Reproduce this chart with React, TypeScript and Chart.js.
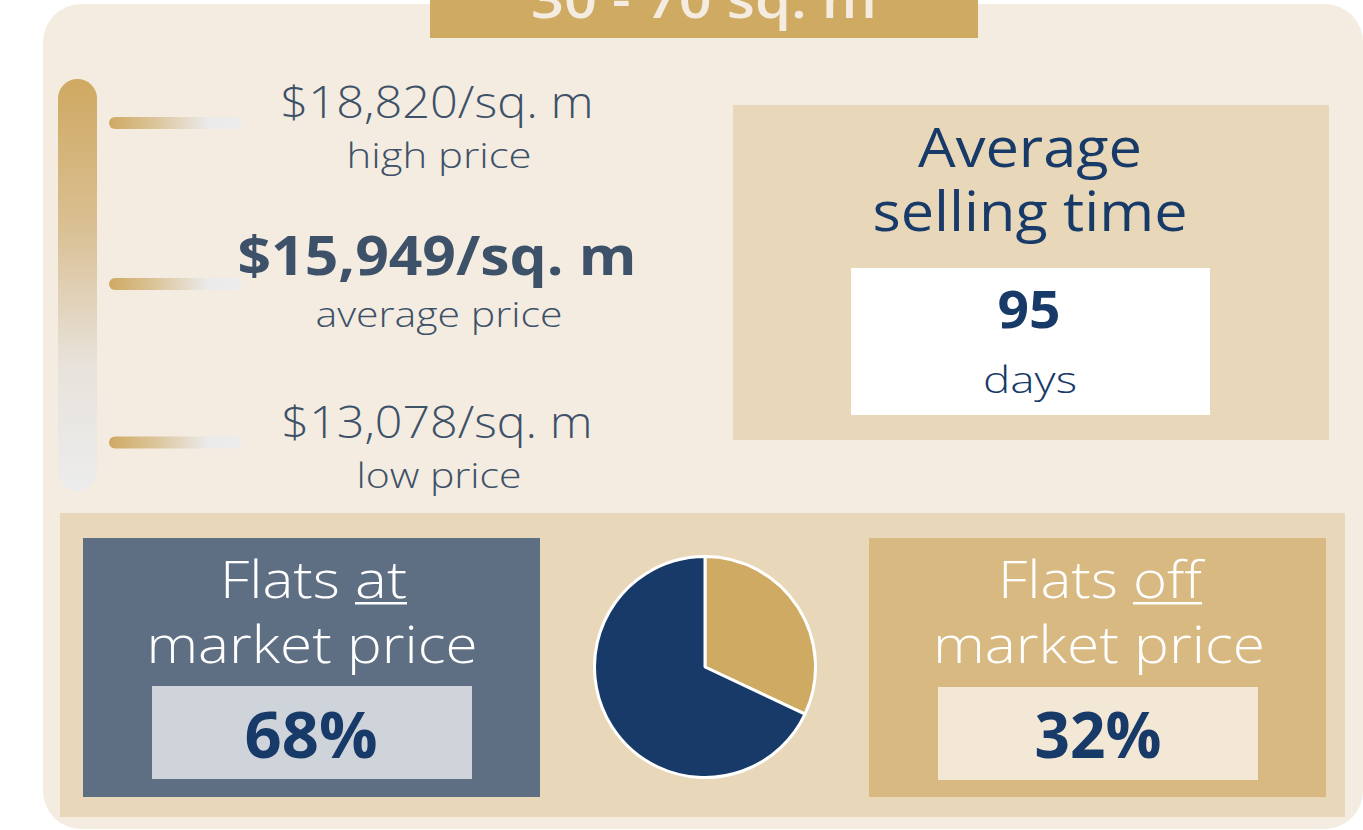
import React, { useEffect, useRef } from "react";
import { Chart, registerables } from "chart.js";

Chart.register(...registerables);

// ---- data ----
const sizeRange = "30 - 70 sq. m";
const priceLabels = ["high price", "average price", "low price"];
const priceValues = [18820, 15949, 13078];
const sellingTitle = ["Average", "selling time"];
const sellingDays = 95;
const sellingUnit = "days";
const sliceLabels = ["Flats off market price", "Flats at market price"];
const sliceValues = [32, 68];
const sliceColors = ["#cfaa63", "#173a68"];

const FONT = "'Open Sans', 'Noto Sans', sans-serif";
const SLATE = "#3d5169";
const NAVY = "#173a68";

const fmtPrice = (v: number) => `$${v.toLocaleString("en-US")}/sq. m`;

type TP = {
  x: number;
  y: number;
  size: number;
  weight?: number;
  fill: string;
  w?: number;
  anchor?: string;
  children: React.ReactNode;
};

function T({ x, y, size, weight = 400, fill, w, anchor = "middle", children }: TP) {
  const extra: any = {};
  if (w) {
    extra.textLength = w;
    extra.lengthAdjust = "spacingAndGlyphs";
  }
  return (
    <text
      x={x}
      y={y}
      fontFamily={FONT}
      fontSize={size}
      fontWeight={weight}
      fill={fill}
      textAnchor={anchor}
      {...extra}
    >
      {children}
    </text>
  );
}

function PieChart() {
  const ref = useRef<HTMLCanvasElement | null>(null);
  useEffect(() => {
    if (!ref.current) return;
    const chart = new Chart(ref.current, {
      type: "pie",
      data: {
        labels: sliceLabels,
        datasets: [
          {
            data: sliceValues,
            backgroundColor: sliceColors,
            borderColor: "#ffffff",
            borderWidth: 3,
          },
        ],
      },
      options: {
        responsive: false,
        animation: false,
        maintainAspectRatio: false,
        layout: { padding: 0 },
        plugins: {
          legend: { display: false },
          tooltip: { enabled: false },
        },
      },
    });
    return () => chart.destroy();
  }, []);
  return (
    <canvas
      ref={ref}
      width={224}
      height={224}
      style={{ position: "absolute", left: 593, top: 555, width: 224, height: 224 }}
    />
  );
}

export default function App() {
  const priceY = [118, 275, 438];
  const labelY = [168, 327, 488];
  const barY = [123, 284, 442.5];
  const priceW = [313, 399, 311];
  const labelW = [185, 247, 165];
  const atPct = `${sliceValues[1]}%`;
  const offPct = `${sliceValues[0]}%`;
  return (
    <div
      style={{
        position: "absolute",
        left: 0,
        top: 0,
        width: 1363,
        height: 830,
        overflow: "hidden",
        background: "#ffffff",
      }}
    >
      <svg
        width={1363}
        height={830}
        style={{ position: "absolute", left: 0, top: 0 }}
      >
        <defs>
          <linearGradient id="vbar" x1="0" y1="0" x2="0" y2="1">
            <stop offset="0" stopColor="#cfa962" />
            <stop offset="0.35" stopColor="#d9bf91" />
            <stop offset="0.7" stopColor="#e8e3dc" />
            <stop offset="1" stopColor="#ececec" />
          </linearGradient>
          <linearGradient id="hbar" x1="0" y1="0" x2="1" y2="0">
            <stop offset="0" stopColor="#cfa962" />
            <stop offset="0.35" stopColor="#dcc59b" />
            <stop offset="0.75" stopColor="#ebebeb" />
            <stop offset="1" stopColor="#ececec" />
          </linearGradient>
        </defs>

        {/* card */}
        <rect x={43} y={4} width={1320} height={825} rx={38} fill="#f4ece0" />

        {/* header */}
        <rect x={430} y={0} width={548} height={38} fill="#cfaa63" />
        <T x={704} y={18} size={52} weight={600} fill="#f4ece0" w={346}>
          {sizeRange}
        </T>

        {/* price scale */}
        <rect x={58} y={79} width={39} height={412} rx={19.5} fill="url(#vbar)" />
        {barY.map((y, i) => (
          <rect key={"b" + i} x={109} y={y - 6} width={133} height={12} rx={6} fill="url(#hbar)" />
        ))}
        {priceValues.map((v, i) => (
          <T
            key={"p" + i}
            x={437}
            y={priceY[i]}
            size={i === 1 ? 54 : 44}
            weight={i === 1 ? 700 : 300}
            fill={SLATE}
            w={priceW[i]}
          >
            {fmtPrice(v)}
          </T>
        ))}
        {priceLabels.map((l, i) => (
          <T key={"l" + i} x={439} y={labelY[i]} size={34} weight={300} fill={SLATE} w={labelW[i]}>
            {l}
          </T>
        ))}

        {/* selling time */}
        <rect x={733} y={105} width={596} height={335} fill="#e8d8b9" />
        <T x={1030} y={167} size={55} weight={500} fill={NAVY} w={224}>
          {sellingTitle[0]}
        </T>
        <T x={1030} y={231} size={55} weight={500} fill={NAVY} w={315}>
          {sellingTitle[1]}
        </T>
        <rect x={851} y={268} width={359} height={147} fill="#ffffff" />
        <T x={1029} y={328} size={52} weight={700} fill={NAVY} w={63}>
          {String(sellingDays)}
        </T>
        <T x={1030} y={393} size={36} weight={300} fill={NAVY} w={94}>
          {sellingUnit}
        </T>

        {/* bottom band */}
        <rect x={60} y={513} width={1285} height={304} fill="#e8d8b9" />

        {/* at market */}
        <rect x={83} y={538} width={457} height={259} fill="#5e6f84" />
        <T x={220} y={598} size={51} weight={300} fill="#ffffff" w={120} anchor="start">
          Flats
        </T>
        <T x={355} y={598} size={51} weight={300} fill="#ffffff" w={52} anchor="start">
          at
        </T>
        <rect x={355} y={602} width={52} height={2.5} fill="#ffffff" />
        <T x={312} y={663} size={51} weight={300} fill="#ffffff" w={331}>
          market price
        </T>
        <rect x={152} y={686} width={320} height={93} fill="#cfd4db" />
        <T x={311} y={758} size={64} weight={700} fill={NAVY} w={133}>
          {atPct}
        </T>

        {/* off market */}
        <rect x={869} y={538} width={457} height={259} fill="#d8b981" />
        <T x={998} y={598} size={51} weight={300} fill="#ffffff" w={120} anchor="start">
          Flats
        </T>
        <T x={1133} y={598} size={51} weight={300} fill="#ffffff" w={69} anchor="start">
          off
        </T>
        <rect x={1133} y={602} width={69} height={2.5} fill="#ffffff" />
        <T x={1099} y={663} size={51} weight={300} fill="#ffffff" w={332}>
          market price
        </T>
        <rect x={938} y={687} width={320} height={93} fill="#f3e8d6" />
        <T x={1098} y={758} size={64} weight={700} fill={NAVY} w={127}>
          {offPct}
        </T>
      </svg>
      <PieChart />
    </div>
  );
}
